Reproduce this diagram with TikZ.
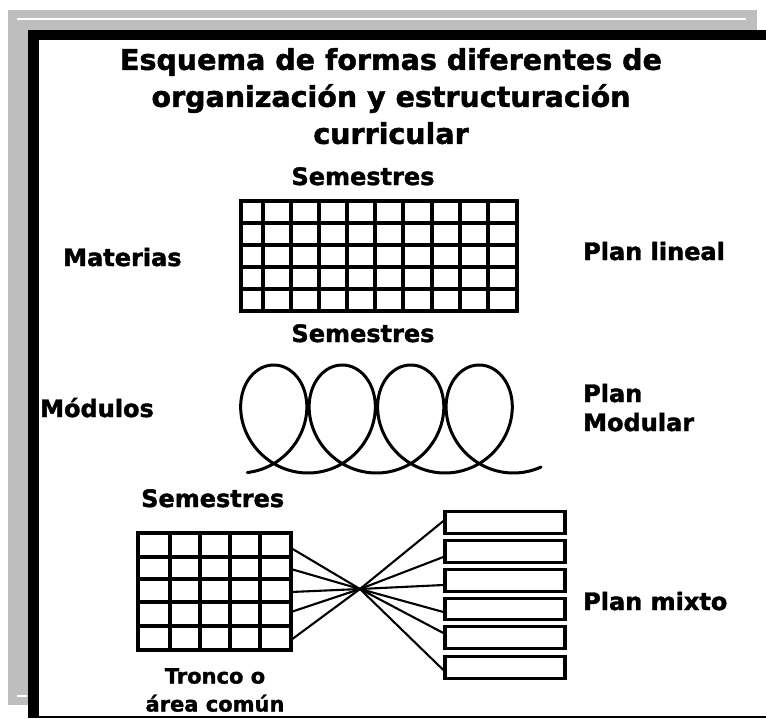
\documentclass[tikz,border=0pt]{standalone}
\usepackage{fontspec}
\setmainfont{DejaVu Sans}[BoldFeatures={FakeBold=1.6}]
\usetikzlibrary{calc}
\definecolor{framegray}{RGB}{190,190,190}
\tikzset{
  lbl/.style={inner sep=0pt, anchor=base west, font=\bfseries\fontsize{24}{24}\selectfont},
  clbl/.style={inner sep=0pt, anchor=base, font=\bfseries\fontsize{24}{24}\selectfont},
  gridline/.style={line width=3.8pt},
  slot/.style={draw, rectangle, line width=3.3pt, minimum width=120pt, minimum height=21.5pt, inner sep=0pt},
  link/.style={line width=2.1pt},
}
\begin{document}
\begin{tikzpicture}[x=1pt,y=-1pt]
\useasboundingbox (0,0) rectangle (766,718);
% frame
\fill[framegray] (8,10) rectangle (757,705);
\draw[white, line width=1.5pt] (17,19) -- (746,19);
\draw[white, line width=1.5pt] (17,696) -- (27,696);
\fill[black] (28,30) rectangle (766,718);
\fill[white] (39,40) rectangle (766,716);
% title
\node[inner sep=0pt, anchor=north, align=center, font=\bfseries\fontsize{28.5}{37}\selectfont] (title) at (391,48)
  {Esquema de formas diferentes de\\organización y estructuración\\curricular};
% plan lineal
\node[clbl] (sem1) at (363,185) {Semestres};
\node[lbl] (mat) at (63,266) {Materias};
\node[lbl] (plin) at (583,260) {Plan lineal};
\foreach \x in {241,263,291,319,347,375,403,432,460,488,517}
  \draw[gridline] (\x,201) -- (\x,311);
\foreach \y in {201,223,245,267,289,311}
  \draw[gridline] (241,\y) -- (517,\y);
\draw[line width=4.4pt] (241,201) rectangle (517,311);
% plan modular
\node[clbl] (sem2) at (363,342) {Semestres};
\node[lbl] (mod) at (40,417) {Módulos};
\node[lbl] (pmod1) at (583,402) {Plan};
\node[lbl] (pmod2) at (583,431) {Modular};
\draw[line width=3pt, line cap=round]
  plot[domain=0.13:25.61, samples=500, smooth, variable=\t]
  ({239.5+10.9*\t+49*sin(\t r)}, {419+54*cos(\t r)});
% plan mixto
\node[lbl] (sem3) at (141,507) {Semestres};
\node[lbl] (pmix) at (583,610) {Plan mixto};
\node[inner sep=0pt, anchor=north, align=center, font=\bfseries\fontsize{21}{28}\selectfont] (tronco) at (215,668)
  {Tronco o\\área común};
\foreach \x in {138,170,200,230,260,291}
  \draw[gridline] (\x,533) -- (\x,650);
\foreach \y in {533,557,579,602,626,650}
  \draw[gridline] (138,\y) -- (291,\y);
\draw[line width=4.4pt] (138,533) rectangle (291,650);
\node[slot] (b1) at (505,522.5) {};
\node[slot] (b2) at (505,551.5) {};
\node[slot] (b3) at (505,580.5) {};
\node[slot] (b4) at (505,609) {};
\node[slot] (b5) at (505,637.5) {};
\node[slot] (b6) at (505,667.5) {};
\coordinate (x) at (360,589);
\coordinate (l1) at (291,548);
\coordinate (l2) at (291,569);
\coordinate (l3) at (291,592);
\coordinate (l4) at (291,612);
\coordinate (l5) at (291,640);
\foreach \c in {l1,l2,l3,l4,l5}
  \draw[link] (\c) -- (x);
\draw[link] (x) -- ([yshift=1.5pt]b1.west);
\draw[link] (x) -- ([yshift=-5.5pt]b2.west);
\draw[link] (x) -- ([yshift=-4.5pt]b3.west);
\draw[link] (x) -- ([yshift=-3pt]b4.west);
\draw[link] (x) -- ([yshift=4.5pt]b5.west);
\draw[link] (x) -- ([yshift=-2.5pt]b6.west);
\end{tikzpicture}
\end{document}
